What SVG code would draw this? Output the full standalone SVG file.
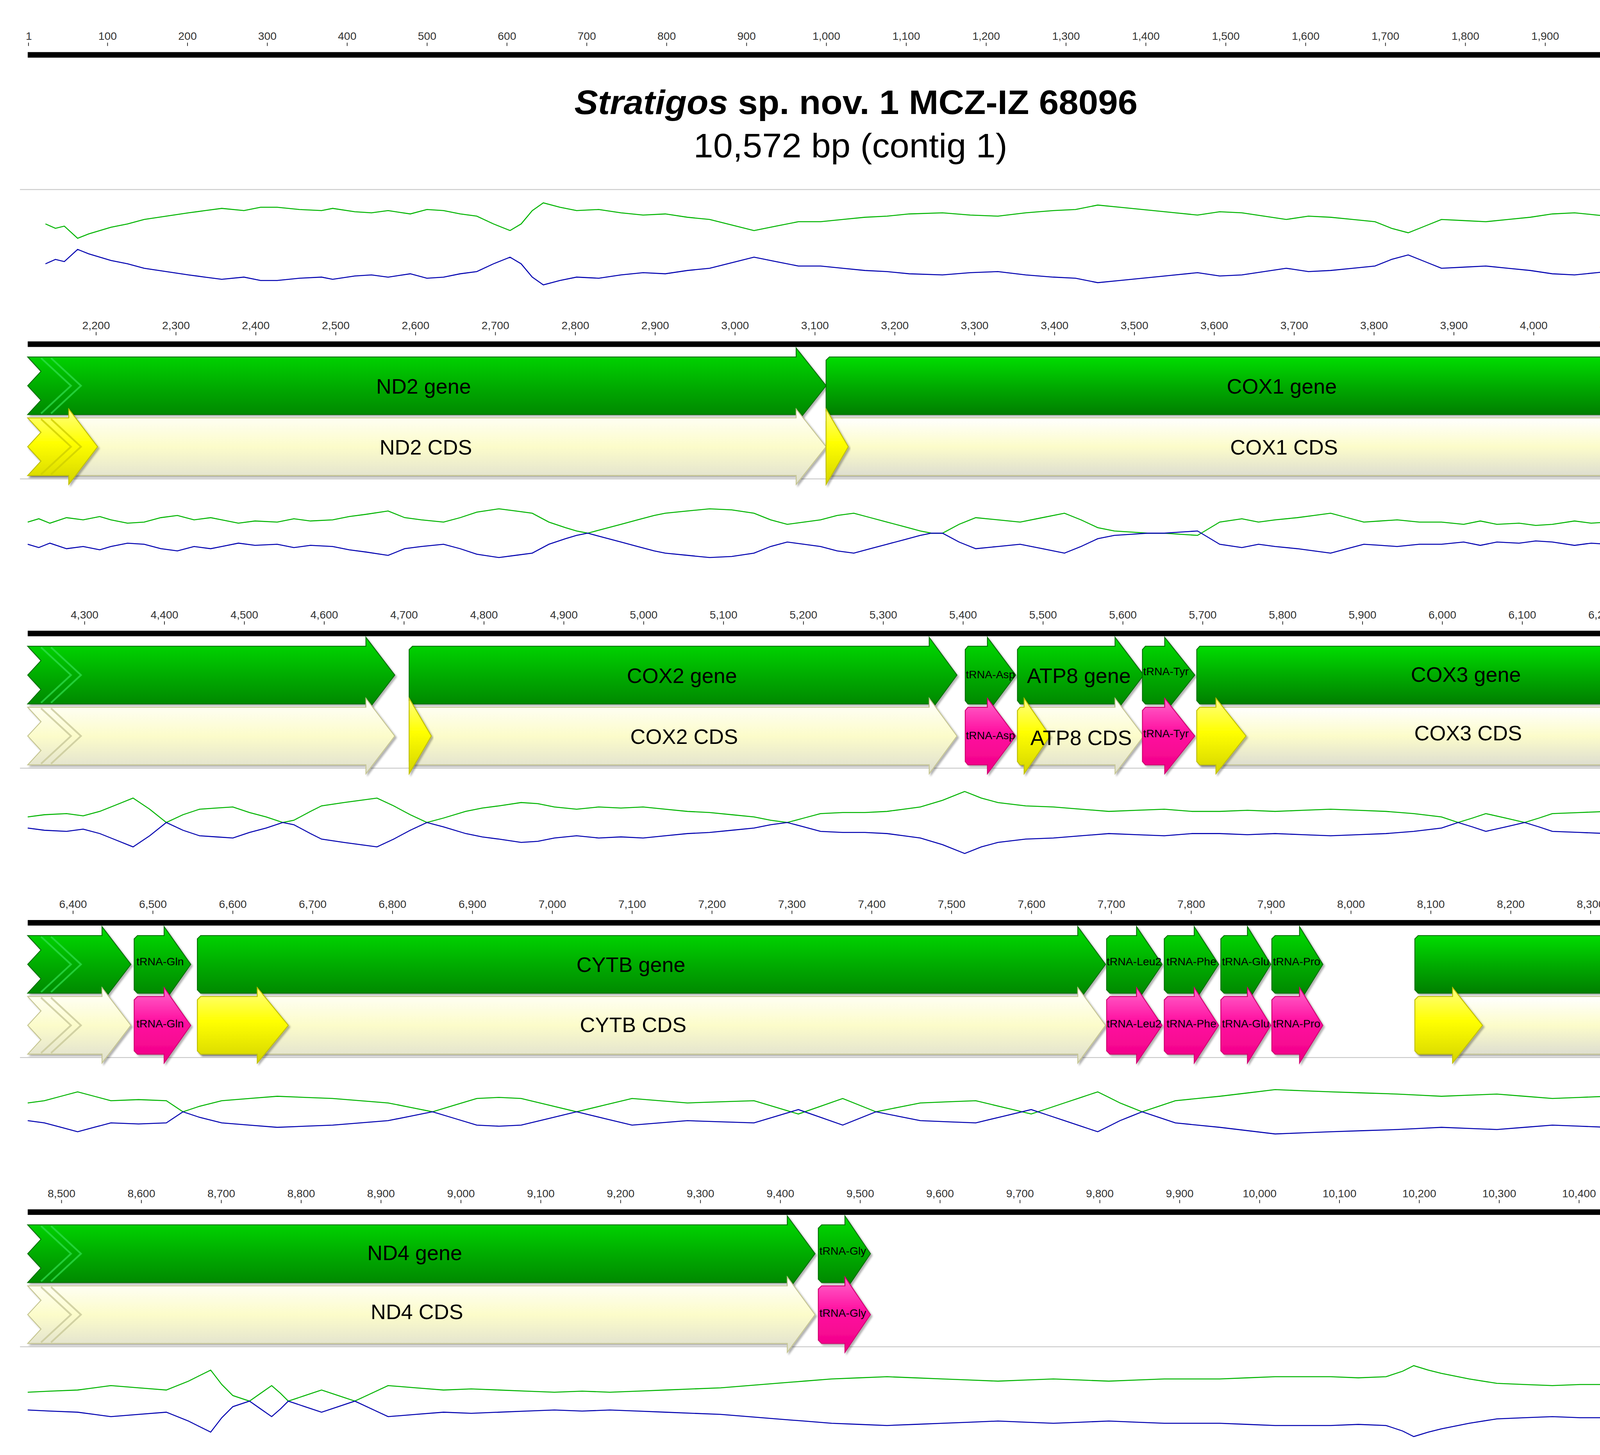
<svg xmlns="http://www.w3.org/2000/svg" width="4451" height="3726" viewBox="0 0 4451 3726">
<defs>
<style>
.tk{font-family:"Liberation Sans",Arial,sans-serif;font-size:10px;fill:#333;text-anchor:middle}
.big{font-family:"Liberation Sans",Arial,sans-serif;font-size:19px;fill:#000;text-anchor:middle}
.sm{font-family:"Liberation Sans",Arial,sans-serif;font-size:10px;fill:#000}
.g{fill:url(#gG);stroke:#007000;stroke-width:0.8;filter:url(#sh)}
.p{fill:url(#gP);stroke:#d00070;stroke-width:0.8;filter:url(#sh)}
.y{fill:url(#gY);stroke:#c0c000;stroke-width:0.8;filter:url(#sh)}
.c{fill:url(#gC);stroke:#c4c490;stroke-width:0.8;filter:url(#sh)}
.chg{fill:none;stroke:#30e050;stroke-width:1.6;opacity:0.7}
.chc{fill:none;stroke:#c8c898;stroke-width:1.6;opacity:0.8}
.sep{stroke:#c8c8c8;stroke-width:0.8}
.tick{stroke:#333;stroke-width:0.7;fill:none}
.gl{fill:none;stroke:#00b400;stroke-width:0.9}
.bl{fill:none;stroke:#0000b0;stroke-width:0.9}
</style>
<linearGradient id="gG" x1="0" y1="0" x2="0" y2="1"><stop offset="0" stop-color="#00dd00"/><stop offset="0.5" stop-color="#00ac00"/><stop offset="1" stop-color="#007f00"/></linearGradient>
<linearGradient id="gP" x1="0" y1="0" x2="0" y2="1"><stop offset="0" stop-color="#ff66cc"/><stop offset="0.45" stop-color="#ff10a0"/><stop offset="1" stop-color="#f00086"/></linearGradient>
<linearGradient id="gY" x1="0" y1="0" x2="0" y2="1"><stop offset="0" stop-color="#ffff80"/><stop offset="0.45" stop-color="#ffff00"/><stop offset="1" stop-color="#d4d400"/></linearGradient>
<linearGradient id="gC" x1="0" y1="0" x2="0" y2="1"><stop offset="0" stop-color="#ffffff"/><stop offset="0.5" stop-color="#fcfcca"/><stop offset="1" stop-color="#deded0"/></linearGradient>
<filter id="sh" x="-5%" y="-10%" width="115%" height="130%"><feDropShadow dx="1.5" dy="1.5" stdDeviation="0.7" flood-color="#000" flood-opacity="0.3"/></filter>
<clipPath id="clip"><rect x="0" y="0" width="1549" height="1313"/></clipPath>
<path id="p0" d="M41,-18L50,-14L58,-16L70,-5L80,-9L90,-12L100,-15L115,-18L130,-22L150,-25L170,-28L185,-30L200,-32L220,-30L235,-33L250,-33L270,-31L290,-30L300,-32L320,-29L335,-28L350,-30L370,-27L385,-31L400,-30L415,-27L430,-25L445,-18L460,-12L470,-18L480,-30L490,-37L505,-33L520,-30L540,-31L560,-28L580,-26L600,-27L620,-24L640,-22L660,-17L680,-12L700,-16L720,-20L740,-20L760,-22L780,-24L800,-25L820,-27L850,-28L875,-26L900,-25L925,-28L950,-30L970,-31L990,-35L1010,-33L1040,-30L1060,-28L1080,-26L1100,-29L1120,-28L1140,-25L1160,-22L1180,-25L1200,-24L1220,-22L1240,-20L1255,-14L1270,-10L1285,-16L1300,-22L1320,-21L1340,-20L1360,-22L1380,-24L1400,-27L1420,-28L1440,-26L1450,-25L1465,-30L1480,-32L1495,-26L1510,-18L1525,-12L1540,-11L1548,-13"/>
<path id="p1" d="M25,-10L35,-13L45,-9L60,-14L75,-12L90,-15L100,-12L115,-9L130,-10L145,-14L160,-16L175,-12L190,-14L200,-12L215,-9L230,-11L250,-10L265,-13L280,-11L300,-12L315,-15L330,-17L350,-20L365,-14L380,-12L400,-10L415,-14L430,-19L450,-22L465,-20L480,-18L495,-10L510,-5L520,-2L530,0L545,-4L560,-8L575,-12L590,-16L600,-18L620,-20L640,-22L660,-21L680,-18L695,-12L710,-8L725,-10L740,-12L755,-16L770,-18L785,-14L800,-10L815,-6L830,-2L840,0L850,0L865,-8L880,-14L900,-12L920,-10L940,-14L960,-18L975,-12L990,-5L1005,-2L1020,-1L1035,0L1050,0L1065,1L1080,2L1090,-4L1100,-10L1120,-13L1135,-10L1150,-12L1170,-14L1185,-16L1200,-18L1215,-14L1230,-10L1245,-11L1260,-12L1280,-10L1300,-10L1320,-8L1335,-11L1350,-8L1370,-9L1385,-7L1400,-8L1420,-11L1435,-9L1450,-10L1470,-12L1485,-10L1500,-12L1515,-9L1530,-11L1548,-8"/>
<path id="p2" d="M25,-5L40,-7L60,-8L75,-6L90,-10L105,-16L120,-22L135,-12L150,0L165,-7L180,-12L195,-13L210,-14L225,-9L240,-5L255,0L265,-2L280,-10L290,-15L310,-18L325,-20L340,-22L355,-15L370,-7L385,0L400,-4L420,-10L435,-13L450,-15L470,-18L485,-17L500,-14L520,-12L540,-14L560,-13L580,-14L600,-12L620,-10L640,-9L660,-7L680,-5L695,-2L710,0L725,-4L740,-8L760,-9L780,-9L800,-10L815,-12L830,-14L850,-20L870,-28L885,-22L900,-18L925,-15L950,-14L975,-12L1000,-10L1025,-11L1050,-12L1075,-10L1100,-10L1125,-11L1150,-10L1175,-11L1200,-12L1225,-11L1250,-10L1275,-8L1300,-5L1315,0L1328,-4L1340,-8L1358,-4L1375,0L1388,-4L1400,-8L1425,-9L1450,-10L1475,-11L1500,-12L1525,-10L1548,-8"/>
<path id="p3" d="M25,-8L40,-10L55,-14L70,-18L85,-14L100,-10L125,-11L150,-10L165,0L180,-5L200,-10L225,-12L250,-14L275,-13L300,-12L325,-10L350,-8L370,-4L390,0L410,-6L430,-12L450,-13L470,-12L495,-6L520,0L545,-6L570,-12L595,-10L620,-8L650,-9L680,-10L700,-4L720,2L740,-5L760,-12L775,-6L790,0L810,-4L830,-8L855,-9L880,-10L905,-4L930,2L945,-3L960,-8L975,-13L990,-18L1000,-13L1010,-8L1020,-4L1030,0L1045,-5L1060,-10L1080,-12L1100,-14L1125,-17L1150,-20L1175,-19L1200,-18L1230,-17L1260,-16L1280,-15L1300,-14L1325,-15L1350,-16L1375,-14L1400,-12L1425,-13L1450,-14L1475,-13L1500,-12L1525,-11L1548,-12"/>
<path id="p4" d="M25,-8L45,-9L70,-10L85,-12L100,-14L125,-12L150,-10L170,-18L190,-28L200,-15L210,-5L225,0L235,-7L245,-14L253,-7L260,0L275,-5L290,-10L305,-5L320,0L335,-7L350,-14L375,-12L400,-10L425,-11L450,-10L475,-9L500,-8L525,-9L550,-8L575,-9L600,-10L625,-11L650,-12L675,-14L700,-16L725,-18L750,-20L775,-21L800,-22L825,-21L850,-20L875,-19L900,-18L925,-19L950,-20L975,-19L1000,-18L1025,-19L1050,-20L1075,-20L1100,-20L1125,-21L1150,-22L1175,-22L1200,-22L1225,-21L1250,-22L1265,-27L1275,-32L1288,-28L1300,-25L1325,-20L1350,-16L1375,-15L1400,-14L1425,-15L1450,-15L1475,-14L1500,-14L1528,-14"/>
</defs>
<rect width="4451" height="3726" fill="#fff"/>
<g transform="scale(2.8386)">
<g id="title">
<text x="772" y="103" font-family="Liberation Sans,Arial,sans-serif" font-size="31" font-weight="bold" text-anchor="middle" textLength="508" lengthAdjust="spacingAndGlyphs"><tspan font-style="italic">Stratigos</tspan> sp. nov. 1 MCZ-IZ 68096</text>
<text x="767" y="142" font-family="Liberation Sans,Arial,sans-serif" font-size="31" text-anchor="middle" textLength="283" lengthAdjust="spacingAndGlyphs">10,572 bp (contig 1)</text>
</g>
<g id="rulers">
<rect x="25" y="47" width="1523" height="5"/><rect x="25" y="308" width="1523" height="5"/><rect x="25" y="569" width="1523" height="5"/><rect x="25" y="830" width="1523" height="5"/><rect x="25" y="1091" width="1523" height="5"/>
<path class="sep" d="M18,171H1552M18,432H1552M18,693H1552M18,954H1552M18,1215H1552"/>
<path class="tick" d="M25.7,38.5v3M97,38.5v3M169.1,38.5v3M241.1,38.5v3M313.1,38.5v3M385.2,38.5v3M457.2,38.5v3M529.2,38.5v3M601.2,38.5v3M673.3,38.5v3M745.3,38.5v3M817.3,38.5v3M889.4,38.5v3M961.4,38.5v3M1033.4,38.5v3M1105.5,38.5v3M1177.5,38.5v3M1249.5,38.5v3M1321.6,38.5v3M1393.6,38.5v3M1465.6,38.5v3M1537.6,38.5v3"/>
<text class="tk" y="36"><tspan x="26">1</tspan><tspan x="97">100</tspan><tspan x="169.1">200</tspan><tspan x="241.1">300</tspan><tspan x="313.1">400</tspan><tspan x="385.2">500</tspan><tspan x="457.2">600</tspan><tspan x="529.2">700</tspan><tspan x="601.2">800</tspan><tspan x="673.3">900</tspan><tspan x="745.3">1,000</tspan><tspan x="817.3">1,100</tspan><tspan x="889.4">1,200</tspan><tspan x="961.4">1,300</tspan><tspan x="1033.4">1,400</tspan><tspan x="1105.5">1,500</tspan><tspan x="1177.5">1,600</tspan><tspan x="1249.5">1,700</tspan><tspan x="1321.6">1,800</tspan><tspan x="1393.6">1,900</tspan><tspan x="1465.6">2,000</tspan><tspan x="1537.6">2,100</tspan></text>
<path class="tick" d="M86.7,299.5v3M158.7,299.5v3M230.7,299.5v3M302.8,299.5v3M374.8,299.5v3M446.8,299.5v3M518.9,299.5v3M590.9,299.5v3M662.9,299.5v3M735,299.5v3M807,299.5v3M879,299.5v3M951.1,299.5v3M1023.1,299.5v3M1095.1,299.5v3M1167.2,299.5v3M1239.2,299.5v3M1311.2,299.5v3M1383.2,299.5v3M1455.3,299.5v3M1527.3,299.5v3"/>
<text class="tk" y="297"><tspan x="86.7">2,200</tspan><tspan x="158.7">2,300</tspan><tspan x="230.7">2,400</tspan><tspan x="302.8">2,500</tspan><tspan x="374.8">2,600</tspan><tspan x="446.8">2,700</tspan><tspan x="518.9">2,800</tspan><tspan x="590.9">2,900</tspan><tspan x="662.9">3,000</tspan><tspan x="735">3,100</tspan><tspan x="807">3,200</tspan><tspan x="879">3,300</tspan><tspan x="951.1">3,400</tspan><tspan x="1023.1">3,500</tspan><tspan x="1095.1">3,600</tspan><tspan x="1167.2">3,700</tspan><tspan x="1239.2">3,800</tspan><tspan x="1311.2">3,900</tspan><tspan x="1383.2">4,000</tspan><tspan x="1455.3">4,100</tspan><tspan x="1527.3">4,200</tspan></text>
<path class="tick" d="M76.3,560.5v3M148.3,560.5v3M220.4,560.5v3M292.4,560.5v3M364.4,560.5v3M436.5,560.5v3M508.5,560.5v3M580.5,560.5v3M652.5,560.5v3M724.6,560.5v3M796.6,560.5v3M868.6,560.5v3M940.7,560.5v3M1012.7,560.5v3M1084.7,560.5v3M1156.8,560.5v3M1228.8,560.5v3M1300.8,560.5v3M1372.9,560.5v3M1444.9,560.5v3M1516.9,560.5v3"/>
<text class="tk" y="558"><tspan x="76.3">4,300</tspan><tspan x="148.3">4,400</tspan><tspan x="220.4">4,500</tspan><tspan x="292.4">4,600</tspan><tspan x="364.4">4,700</tspan><tspan x="436.5">4,800</tspan><tspan x="508.5">4,900</tspan><tspan x="580.5">5,000</tspan><tspan x="652.5">5,100</tspan><tspan x="724.6">5,200</tspan><tspan x="796.6">5,300</tspan><tspan x="868.6">5,400</tspan><tspan x="940.7">5,500</tspan><tspan x="1012.7">5,600</tspan><tspan x="1084.7">5,700</tspan><tspan x="1156.8">5,800</tspan><tspan x="1228.8">5,900</tspan><tspan x="1300.8">6,000</tspan><tspan x="1372.9">6,100</tspan><tspan x="1444.9">6,200</tspan><tspan x="1516.9">6,300</tspan></text>
<path class="tick" d="M65.9,821.5v3M137.9,821.5v3M210,821.5v3M282,821.5v3M354,821.5v3M426.1,821.5v3M498.1,821.5v3M570.1,821.5v3M642.1,821.5v3M714.2,821.5v3M786.2,821.5v3M858.2,821.5v3M930.3,821.5v3M1002.3,821.5v3M1074.3,821.5v3M1146.4,821.5v3M1218.4,821.5v3M1290.4,821.5v3M1362.5,821.5v3M1434.5,821.5v3M1506.5,821.5v3"/>
<text class="tk" y="819"><tspan x="65.9">6,400</tspan><tspan x="137.9">6,500</tspan><tspan x="210">6,600</tspan><tspan x="282">6,700</tspan><tspan x="354">6,800</tspan><tspan x="426.1">6,900</tspan><tspan x="498.1">7,000</tspan><tspan x="570.1">7,100</tspan><tspan x="642.1">7,200</tspan><tspan x="714.2">7,300</tspan><tspan x="786.2">7,400</tspan><tspan x="858.2">7,500</tspan><tspan x="930.3">7,600</tspan><tspan x="1002.3">7,700</tspan><tspan x="1074.3">7,800</tspan><tspan x="1146.4">7,900</tspan><tspan x="1218.4">8,000</tspan><tspan x="1290.4">8,100</tspan><tspan x="1362.5">8,200</tspan><tspan x="1434.5">8,300</tspan><tspan x="1506.5">8,400</tspan></text>
<path class="tick" d="M55.5,1082.5v3M127.5,1082.5v3M199.6,1082.5v3M271.6,1082.5v3M343.6,1082.5v3M415.7,1082.5v3M487.7,1082.5v3M559.7,1082.5v3M631.7,1082.5v3M703.8,1082.5v3M775.8,1082.5v3M847.8,1082.5v3M919.9,1082.5v3M991.9,1082.5v3M1063.9,1082.5v3M1136,1082.5v3M1208,1082.5v3M1280,1082.5v3M1352.1,1082.5v3M1424.1,1082.5v3M1496.1,1082.5v3M1547.5,1082.5v3"/>
<text class="tk" y="1080"><tspan x="55.5">8,500</tspan><tspan x="127.5">8,600</tspan><tspan x="199.6">8,700</tspan><tspan x="271.6">8,800</tspan><tspan x="343.6">8,900</tspan><tspan x="415.7">9,000</tspan><tspan x="487.7">9,100</tspan><tspan x="559.7">9,200</tspan><tspan x="631.7">9,300</tspan><tspan x="703.8">9,400</tspan><tspan x="775.8">9,500</tspan><tspan x="847.8">9,600</tspan><tspan x="919.9">9,700</tspan><tspan x="991.9">9,800</tspan><tspan x="1063.9">9,900</tspan><tspan x="1136">10,000</tspan><tspan x="1208">10,100</tspan><tspan x="1280">10,200</tspan><tspan x="1352.1">10,300</tspan><tspan x="1424.1">10,400</tspan><tspan x="1496.1">10,500</tspan><tspan x="1535">10,572</tspan></text>
</g>
<g id="plots">
<use href="#p0" class="gl" transform="translate(0,220)"/>
<use href="#p0" class="bl" transform="translate(0,220) scale(1,-1)"/>
<use href="#p1" class="gl" transform="translate(0,481)"/>
<use href="#p1" class="bl" transform="translate(0,481) scale(1,-1)"/>
<use href="#p2" class="gl" transform="translate(0,742)"/>
<use href="#p2" class="bl" transform="translate(0,742) scale(1,-1)"/>
<use href="#p3" class="gl" transform="translate(0,1003)"/>
<use href="#p3" class="bl" transform="translate(0,1003) scale(1,-1)"/>
<use href="#p4" class="gl" transform="translate(0,1264)"/>
<use href="#p4" class="bl" transform="translate(0,1264) scale(1,-1)"/>
</g>
<g id="row0" clip-path="url(#clip)">
<polygon class="g" points="1498,61 1517,61 1517,53 1544,87 1517,121 1517,113 1498,113 1495,110 1495,64"/>
<text class="sm" x="1497" y="90">tRNA-Ser</text>
<polygon class="p" points="1498,116 1517,116 1517,108 1544,142 1517,176 1517,168 1498,168 1495,165 1495,119"/>
<text class="sm" x="1497" y="145">tRNA-Ser</text>
<polygon class="g" points="1545,61 1548,61 1548,113 1545,113 1547,87"/>
<polygon class="y" points="1545,116 1548,116 1548,168 1545,168 1547,142"/>
</g>
<g id="row1">
<polygon class="g" points="25,322 718,322 718,314 745,348 718,382 718,374 25,374 37,361 25,348 37,335"/>
<polyline class="chg" points="37,323 64,348 37,373"/><polyline class="chg" points="46,323 73,348 46,373"/>
<text class="big" x="382" y="355">ND2 gene</text>
<polygon class="c" points="25,377 718,377 718,369 745,403 718,437 718,429 25,429 37,416 25,403 37,390"/>
<polygon class="y" points="25,377 62,377 62,369 88,403 62,437 62,429 25,429 37,416 25,403 37,390"/>
<polyline class="chc" points="37,378 64,403 37,428" style="stroke:#d0d000"/><polyline class="chc" points="46,378 73,403 46,428" style="stroke:#d0d000"/>
<text class="big" x="384" y="410">ND2 CDS</text>
<polygon class="g" points="748,322 1548,322 1548,374 748,374 745,371 745,325"/>
<polyline class="chg" points="1505,323 1530,348 1505,373"/><polyline class="chg" points="1515,323 1540,348 1515,373"/>
<text class="big" x="1156" y="355">COX1 gene</text>
<polygon class="c" points="748,377 1548,377 1548,429 748,429 745,426 745,380"/>
<polygon class="y" points="745,369 765,403 745,437"/>
<polyline class="chc" points="1505,378 1530,403 1505,428"/><polyline class="chc" points="1515,378 1540,403 1515,428"/>
<text class="big" x="1158" y="410">COX1 CDS</text>
</g>
<g id="row2">
<polygon class="g" points="25,583 330,583 330,575 356,609 330,643 330,635 25,635 37,622 25,609 37,596"/>
<polyline class="chg" points="37,584 64,609 37,634"/><polyline class="chg" points="46,584 73,609 46,634"/>
<polygon class="c" points="25,638 330,638 330,630 356,664 330,698 330,690 25,690 37,677 25,664 37,651"/>
<polyline class="chc" points="37,639 64,664 37,689"/><polyline class="chc" points="46,639 73,664 46,689"/>
<polygon class="g" points="372,583 838,583 838,575 863,609 838,643 838,635 372,635 369,632 369,586"/>
<text class="big" x="615" y="616">COX2 gene</text>
<polygon class="c" points="372,638 838,638 838,630 863,664 838,698 838,690 372,690 369,687 369,641"/>
<polygon class="y" points="369,630 389,664 369,698"/>
<text class="big" x="617" y="671">COX2 CDS</text>
<polygon class="g" points="873,583 890.5,583 890.5,575 916,609 890.5,643 890.5,635 873,635 870.5,632 870.5,586"/>
<text class="sm" x="871" y="612">tRNA-Asp</text>
<polygon class="p" points="873,638 890.5,638 890.5,630 916,664 890.5,698 890.5,690 873,690 870.5,687 870.5,641"/>
<text class="sm" x="871" y="667">tRNA-Asp</text>
<polygon class="g" points="920,583 1005.6,583 1005.6,575 1031.4,609 1005.6,643 1005.6,635 920,635 917.6,632 917.6,586"/>
<text class="big" x="973" y="616">ATP8 gene</text>
<polygon class="c" points="920,638 1005.6,638 1005.6,630 1031.4,664 1005.6,698 1005.6,690 920,690 917.6,687 917.6,641"/>
<polygon class="y" points="920,638 923.6,638 923.6,630 947,664 923.6,698 923.6,690 920,690 917.6,687 917.6,641"/>
<text class="big" x="975" y="672">ATP8 CDS</text>
<polygon class="g" points="1033,583 1050.4,583 1050.4,575 1077.5,609 1050.4,643 1050.4,635 1033,635 1030.3,632 1030.3,586"/>
<text class="sm" x="1031" y="609">tRNA-Tyr</text>
<polygon class="p" points="1033,638 1050.4,638 1050.4,630 1077.5,664 1050.4,698 1050.4,690 1033,690 1030.3,687 1030.3,641"/>
<text class="sm" x="1031" y="665">tRNA-Tyr</text>
<polygon class="g" points="1082,583 1548,583 1548,635 1082,635 1079.3,632 1079.3,586"/>
<polyline class="chg" points="1505,584 1530,609 1505,634"/><polyline class="chg" points="1515,584 1540,609 1515,634"/>
<text class="big" x="1322" y="615">COX3 gene</text>
<polygon class="c" points="1082,638 1548,638 1548,690 1082,690 1079.3,687 1079.3,641"/>
<polygon class="y" points="1082,638 1096.6,638 1096.6,630 1123.7,664 1096.6,698 1096.6,690 1082,690 1079.3,687 1079.3,641"/>
<polyline class="chc" points="1505,639 1530,664 1505,689"/><polyline class="chc" points="1515,639 1540,664 1515,689"/>
<text class="big" x="1324" y="668">COX3 CDS</text>
</g>
<g id="row3">
<polygon class="g" points="25,844 92,844 92,836 118,870 92,904 92,896 25,896 37,883 25,870 37,857"/>
<polyline class="chg" points="37,845 64,870 37,895"/><polyline class="chg" points="46,845 73,870 46,895"/>
<polygon class="c" points="25,899 92,899 92,891 118,925 92,959 92,951 25,951 37,938 25,925 37,912"/>
<polyline class="chc" points="37,900 64,925 37,950"/><polyline class="chc" points="46,900 73,925 46,950"/>
<polygon class="g" points="124,844 148,844 148,836 172,870 148,904 148,896 124,896 121,893 121,847"/>
<text class="sm" x="123" y="871">tRNA-Gln</text>
<polygon class="p" points="124,899 148,899 148,891 172,925 148,959 148,951 124,951 121,948 121,902"/>
<text class="sm" x="123" y="927">tRNA-Gln</text>
<polygon class="g" points="181,844 972,844 972,836 997,870 972,904 972,896 181,896 178,893 178,847"/>
<text class="big" x="569" y="877">CYTB gene</text>
<polygon class="c" points="181,899 972,899 972,891 997,925 972,959 972,951 181,951 178,948 178,902"/>
<polygon class="y" points="181,899 232,899 232,891 260,925 232,959 232,951 181,951 178,948 178,902"/>
<text class="big" x="571" y="931">CYTB CDS</text>
<polygon class="g" points="1001,844 1025,844 1025,836 1048,870 1025,904 1025,896 1001,896 998,893 998,847"/>
<text class="sm" x="998" y="871">tRNA-Leu2</text>
<polygon class="p" points="1001,899 1025,899 1025,891 1048,925 1025,959 1025,951 1001,951 998,948 998,902"/>
<text class="sm" x="998" y="927">tRNA-Leu2</text>
<polygon class="g" points="1053,844 1077,844 1077,836 1099,870 1077,904 1077,896 1053,896 1050,893 1050,847"/>
<text class="sm" x="1052" y="871">tRNA-Phe</text>
<polygon class="p" points="1053,899 1077,899 1077,891 1099,925 1077,959 1077,951 1053,951 1050,948 1050,902"/>
<text class="sm" x="1052" y="927">tRNA-Phe</text>
<polygon class="g" points="1104,844 1125,844 1125,836 1146,870 1125,904 1125,896 1104,896 1101,893 1101,847"/>
<text class="sm" x="1102" y="871">tRNA-Glu</text>
<polygon class="p" points="1104,899 1125,899 1125,891 1146,925 1125,959 1125,951 1104,951 1101,948 1101,902"/>
<text class="sm" x="1102" y="927">tRNA-Glu</text>
<polygon class="g" points="1150,844 1172,844 1172,836 1193,870 1172,904 1172,896 1150,896 1147,893 1147,847"/>
<text class="sm" x="1148" y="871">tRNA-Pro</text>
<polygon class="p" points="1150,899 1172,899 1172,891 1193,925 1172,959 1172,951 1150,951 1147,948 1147,902"/>
<text class="sm" x="1148" y="927">tRNA-Pro</text>
<polygon class="g" points="1279,844 1548,844 1548,896 1279,896 1276,893 1276,847"/>
<polyline class="chg" points="1505,845 1530,870 1505,895"/><polyline class="chg" points="1515,845 1540,870 1515,895"/>
<polygon class="c" points="1279,899 1548,899 1548,951 1279,951 1276,948 1276,902"/>
<polygon class="y" points="1279,899 1310,899 1310,891 1337,925 1310,959 1310,951 1279,951 1276,948 1276,902"/>
<polyline class="chc" points="1505,900 1530,925 1505,950"/><polyline class="chc" points="1515,900 1540,925 1515,950"/>
</g>
<g id="row4">
<polygon class="g" points="25,1105 710,1105 710,1097 735,1131 710,1165 710,1157 25,1157 37,1144 25,1131 37,1118"/>
<polyline class="chg" points="37,1106 64,1131 37,1156"/><polyline class="chg" points="46,1106 73,1131 46,1156"/>
<text class="big" x="374" y="1137">ND4 gene</text>
<polygon class="c" points="25,1160 710,1160 710,1152 735,1186 710,1220 710,1212 25,1212 37,1199 25,1186 37,1173"/>
<polyline class="chc" points="37,1161 64,1186 37,1211"/><polyline class="chc" points="46,1161 73,1186 46,1211"/>
<text class="big" x="376" y="1190">ND4 CDS</text>
<polygon class="g" points="741,1105 762,1105 762,1097 785,1131 762,1165 762,1157 741,1157 738,1154 738,1108"/>
<text class="sm" x="739" y="1132">tRNA-Gly</text>
<polygon class="p" points="741,1160 762,1160 762,1152 785,1186 762,1220 762,1212 741,1212 738,1209 738,1163"/>
<text class="sm" x="739" y="1188">tRNA-Gly</text>
</g>
</g>
</svg>
